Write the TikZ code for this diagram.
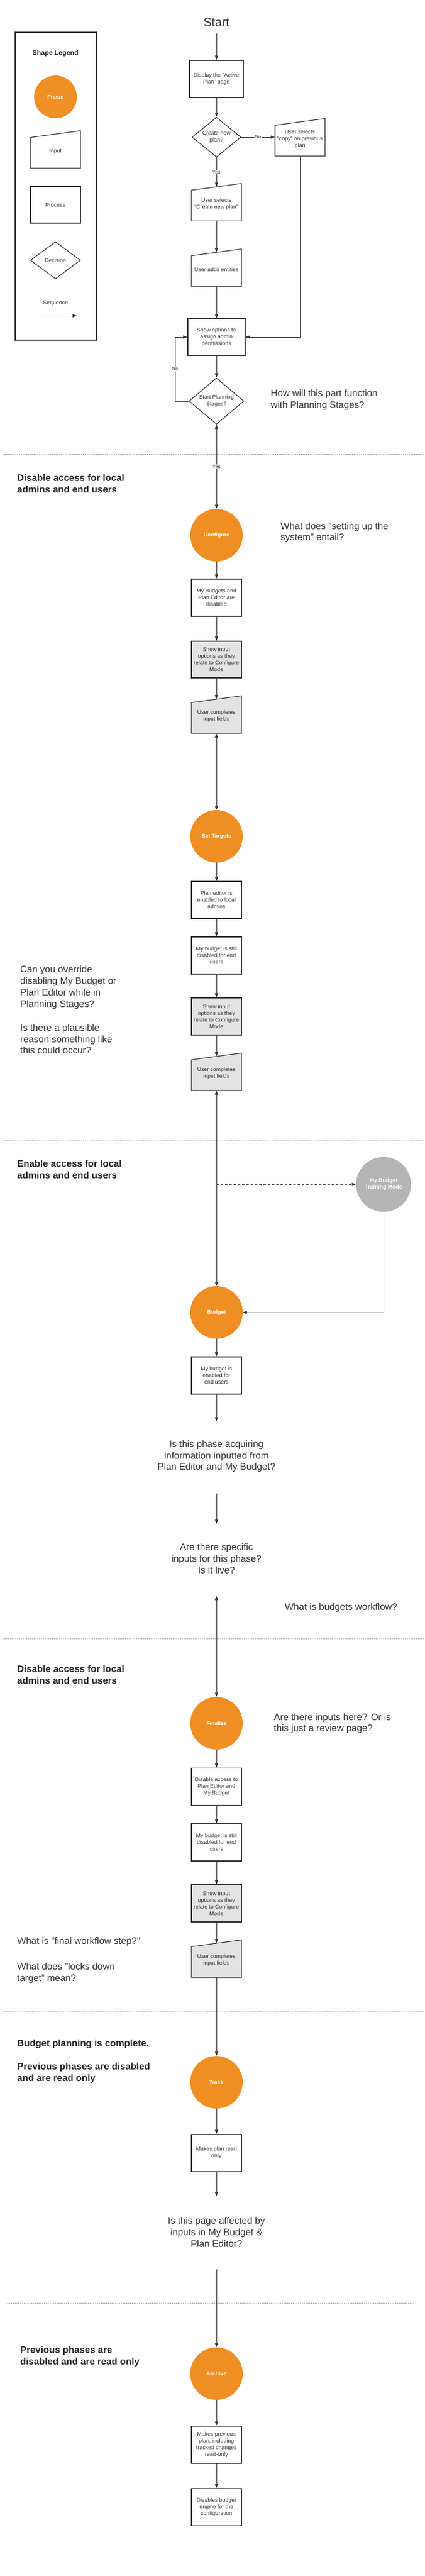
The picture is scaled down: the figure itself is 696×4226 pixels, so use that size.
\documentclass[tikz,border=0pt]{standalone}
\usepackage{fontspec}
\setmainfont{Liberation Sans}
\usetikzlibrary{shapes.geometric,arrows.meta}
\definecolor{lc}{HTML}{333333}
\definecolor{phaseorange}{HTML}{EF8E22}
\definecolor{traingray}{HTML}{B5B5B5}
\definecolor{boxgray}{HTML}{E3E3E3}
\definecolor{sepgray}{HTML}{B0B0B0}
\tikzset{
 every node/.style={text=lc},
 base/.style={draw=lc, line width=1.1pt, inner sep=1pt, align=center, font=\fontsize{9}{11}\selectfont},
 proc/.style={base, rectangle, minimum width=82pt, minimum height=61pt},
 gproc/.style={proc, fill=boxgray},
 dec/.style={base, diamond, minimum width=80pt, minimum height=60pt, inner sep=0pt},
 phase/.style={circle, fill=phaseorange, minimum size=86pt, text=white, font=\bfseries\fontsize{9}{11}\selectfont, align=center, inner sep=0pt},
 inp/.style={rectangle, minimum width=82pt, minimum height=56pt, inner sep=0pt, outer sep=0pt, align=center, font=\fontsize{9}{11}\selectfont},
 arr/.style={draw=lc, line width=0.9pt, -{Triangle[length=7pt,width=5pt]}},
 darr/.style={draw=lc, line width=0.9pt, {Triangle[length=7pt,width=5pt]}-{Triangle[length=7pt,width=5pt]}},
 lbl/.style={fill=white, inner sep=1pt, font=\fontsize{8}{9}\selectfont},
 q/.style={align=left, anchor=west, inner sep=0pt, font=\fontsize{15.5}{18.7}\selectfont},
 qc/.style={align=center, inner sep=0pt, font=\fontsize{15.5}{18.7}\selectfont},
 head/.style={align=left, anchor=west, inner sep=0pt, font=\bfseries\fontsize{15.5}{19}\selectfont, text=black!85},
 sep/.style={draw=sepgray, line width=1pt, dash pattern=on 1.5pt off 1.5pt},
}
\newcommand\inpnode[5]{%
 \path[draw=lc, line width=1.1pt, fill=#4] ({#2-41},{#3+28}) -- ({#2+41},{#3+28}) -- ({#2+41},{#3-28-5.5}) -- ({#2-41},{#3-28+5.5}) -- cycle;
 \node[inp] (#1) at (#2,#3) {#5};
}
\begin{document}
\begin{tikzpicture}[x=1pt,y=-1pt]
\useasboundingbox (0,0) rectangle (696,4226);
\fill[white] (0,0) rectangle (696,4226);

% ---------- legend
\node[draw=lc, line width=1.1pt, minimum width=133pt, minimum height=505pt, inner sep=0pt] (legend) at (91.5,305.5) {};
\node[font=\bfseries\fontsize{11}{13}\selectfont, text=black!85] (legtitle) at (91,88) {Shape Legend};
\node[phase, minimum size=70pt] (legphase) at (91,159) {Phase};
\inpnode{leginp}{91}{248}{white}{Input}
\node[proc, minimum height=60pt] (legproc) at (91,336) {Process};
\node[dec, minimum width=82pt, minimum height=61pt] (legdec) at (91,427) {Decision};
\node[font=\fontsize{9}{11}\selectfont] (legseq) at (91,497) {Sequence};
\coordinate (sqa) at (65,518);
\coordinate (sqb) at (126,518);
\draw[arr] (sqa) -- (sqb);

% ---------- top flow
\node[inner sep=0pt, font=\fontsize{20}{24}\selectfont] (start) at (355,37) {Start};
\coordinate (starta) at (355,55);
\node[proc, minimum width=88pt] (active) at (355,129.5) {Display the "Active\\Plan" page};
\draw[arr] (starta) -- (active.north);
\node[dec] (newplan) at (355,225) {Create new\\plan?};
\draw[arr] (active.south) -- (newplan.north);
\inpnode{copy}{492}{228}{white}{User selects\\"copy" on previous\\plan}
\draw[arr] (newplan.east) -- (newplan.east -| copy.west) node[lbl, midway] (nolbl1) {No};
\inpnode{createnew}{355}{334.5}{white}{User selects\\"Create new plan"}
\draw[arr] (newplan.south) -- (createnew.north) node[lbl, pos=0.5] (yeslbl1) {Yes};
\inpnode{entities}{355}{442}{white}{User adds entities}
\draw[arr] (createnew.south) -- (entities.north);
\node[proc, minimum width=94pt, minimum height=60pt] (assign) at (355,553) {Show options to\\assign admin\\permissions};
\draw[arr] (entities.south) -- (assign.north);
\draw[arr] (copy.south) |- (assign.east);
\node[dec, minimum width=90pt, minimum height=68pt] (stages) at (355,658) {Start Planning\\Stages?};
\draw[arr] (assign.south) -- (stages.north);
\draw[arr] (stages.west) -- ++(-22,0) |- (assign.west);
\node[lbl] (nolbl2) at (287,605) {No};
\node[q] (q1) at (444,656) {How will this part function\\with Planning Stages?};

\draw[sep] (4,745) -- (696,745);

% ---------- configure
\node[head] (h1) at (28,793) {Disable access for local\\admins and end users};
\node[phase] (configure) at (355,878) {Configure};
\draw[darr] (stages.south) -- (configure.north) node[lbl, pos=0.5] (yeslbl2) {Yes};
\node[q] (q2) at (460,873.5) {What does "setting up the\\system" entail?};
\node[proc] (c1) at (355,980.5) {My Budgets and\\Plan Editor are\\disabled};
\draw[arr] (configure.south) -- (c1.north);
\node[gproc, minimum height=60pt] (c2) at (355,1082) {Show input\\options as they\\relate to Configure\\Mode};
\draw[arr] (c1.south) -- (c2.north);
\inpnode{c3}{355}{1175}{boxgray}{User completes\\input fields}
\draw[arr] (c2.south) -- (c3.north);

% ---------- set targets
\node[phase] (targets) at (355,1372) {Set Targets};
\draw[darr] (c3.south) -- (targets.north);
\node[proc] (t1) at (355,1476.5) {Plan editor is\\enabled to local\\admins};
\draw[arr] (targets.south) -- (t1.north);
\node[proc] (t2) at (355,1567.5) {My budget is still\\disabled for end\\users};
\draw[arr] (t1.south) -- (t2.north);
\node[gproc] (t3) at (355,1667.5) {Show input\\options as they\\relate to Configure\\Mode};
\draw[arr] (t2.south) -- (t3.north);
\inpnode{t4}{355}{1761}{boxgray}{User completes\\input fields}
\draw[arr] (t3.south) -- (t4.north);
\node[q] (q3) at (33,1620) {Can you override\\disabling My Budget or\\Plan Editor while in\\Planning Stages?};
\node[q] (q4) at (33,1704.5) {Is there a plausible\\reason something like\\this could occur?};

\draw[sep] (4,1870) -- (696,1870);

% ---------- budget
\node[head] (h2) at (28,1918.5) {Enable access for local\\admins and end users};
\node[phase] (budget) at (355,2153) {Budget};
\draw[darr] (t4.south) -- (budget.north);
\node[phase, fill=traingray, minimum size=90pt] (training) at (629,1943) {My Budget\\Training Mode};
\coordinate (dsrc) at (355,1943);
\draw[arr, dash pattern=on 4pt off 3pt] (dsrc) -- (training.west);
\draw[arr] (training.south) |- (budget.east);
\node[proc] (b1) at (355,2256.5) {My budget is\\enabled for\\end users};
\draw[arr] (budget.south) -- (b1.north);
\coordinate (b1end) at (355,2332);
\draw[arr] (b1.south) -- (b1end);
\node[qc] (q5) at (355,2389) {Is this phase acquiring\\information inputted from\\Plan Editor and My Budget?};
\coordinate (q5a) at (355,2450);
\coordinate (q5b) at (355,2500);
\draw[arr] (q5a) -- (q5b);
\node[qc] (q6) at (355,2557) {Are there specific\\inputs for this phase?\\Is it live?};
\coordinate (q6a) at (355,2618);
\node[q] (q7) at (467,2637) {What is budgets workflow?};

\draw[sep] (4,2688) -- (696,2688);

% ---------- finalize
\node[head] (h3) at (28,2747.5) {Disable access for local\\admins and end users};
\node[phase] (finalize) at (355,2827) {Finalize};
\draw[darr] (q6a) -- (finalize.north);
\node[q] (q8) at (449,2827.5) {Are there inputs here? Or is\\this just a review page?};
\node[proc] (f1) at (355,2931) {Disable access to\\Plan Editor and\\My Budget};
\draw[arr] (finalize.south) -- (f1.north);
\node[proc] (f2) at (355,3022.5) {My budget is still\\disabled for end\\users};
\draw[arr] (f1.south) -- (f2.north);
\node[gproc] (f3) at (355,3122.5) {Show input\\options as they\\relate to Configure\\Mode};
\draw[arr] (f2.south) -- (f3.north);
\inpnode{f4}{355}{3216}{boxgray}{User completes\\input fields}
\draw[arr] (f3.south) -- (f4.north);
\node[q] (q9) at (28,3185) {What is "final workflow step?"};
\node[q] (q10) at (28,3237) {What does "locks down\\target" mean?};

\draw[sep] (4,3299) -- (696,3299);

% ---------- track
\node[head] (h4) at (28,3353) {Budget planning is complete.};
\node[head] (h5) at (28,3400.5) {Previous phases are disabled\\and are read only};
\node[phase] (track) at (355,3416) {Track};
\draw[arr] (f4.south) -- (track.north);
\node[proc] (tr1) at (355,3532) {Makes plan read\\only};
\draw[arr] (track.south) -- (tr1.north);
\coordinate (tr1end) at (355,3603);
\draw[arr] (tr1.south) -- (tr1end);
\node[qc] (q11) at (355,3662) {Is this page affected by\\inputs in My Budget \&\\Plan Editor?};
\coordinate (q11a) at (355,3723);

\draw[sep] (9,3778) -- (679,3778);

% ---------- archive
\node[head] (h6) at (33,3865.5) {Previous phases are\\disabled and are read only};
\node[phase] (archive) at (355,3894) {Archive};
\draw[arr] (q11a) -- (archive.north);
\node[proc] (a1) at (355,4010.5) {Makes previous\\plan, including\\tracked changes\\read-only};
\draw[arr] (archive.south) -- (a1.north);
\node[proc] (a2) at (355,4113) {Disables budget\\engine for the\\configuration};
\draw[arr] (a1.south) -- (a2.north);
\end{tikzpicture}
\end{document}
